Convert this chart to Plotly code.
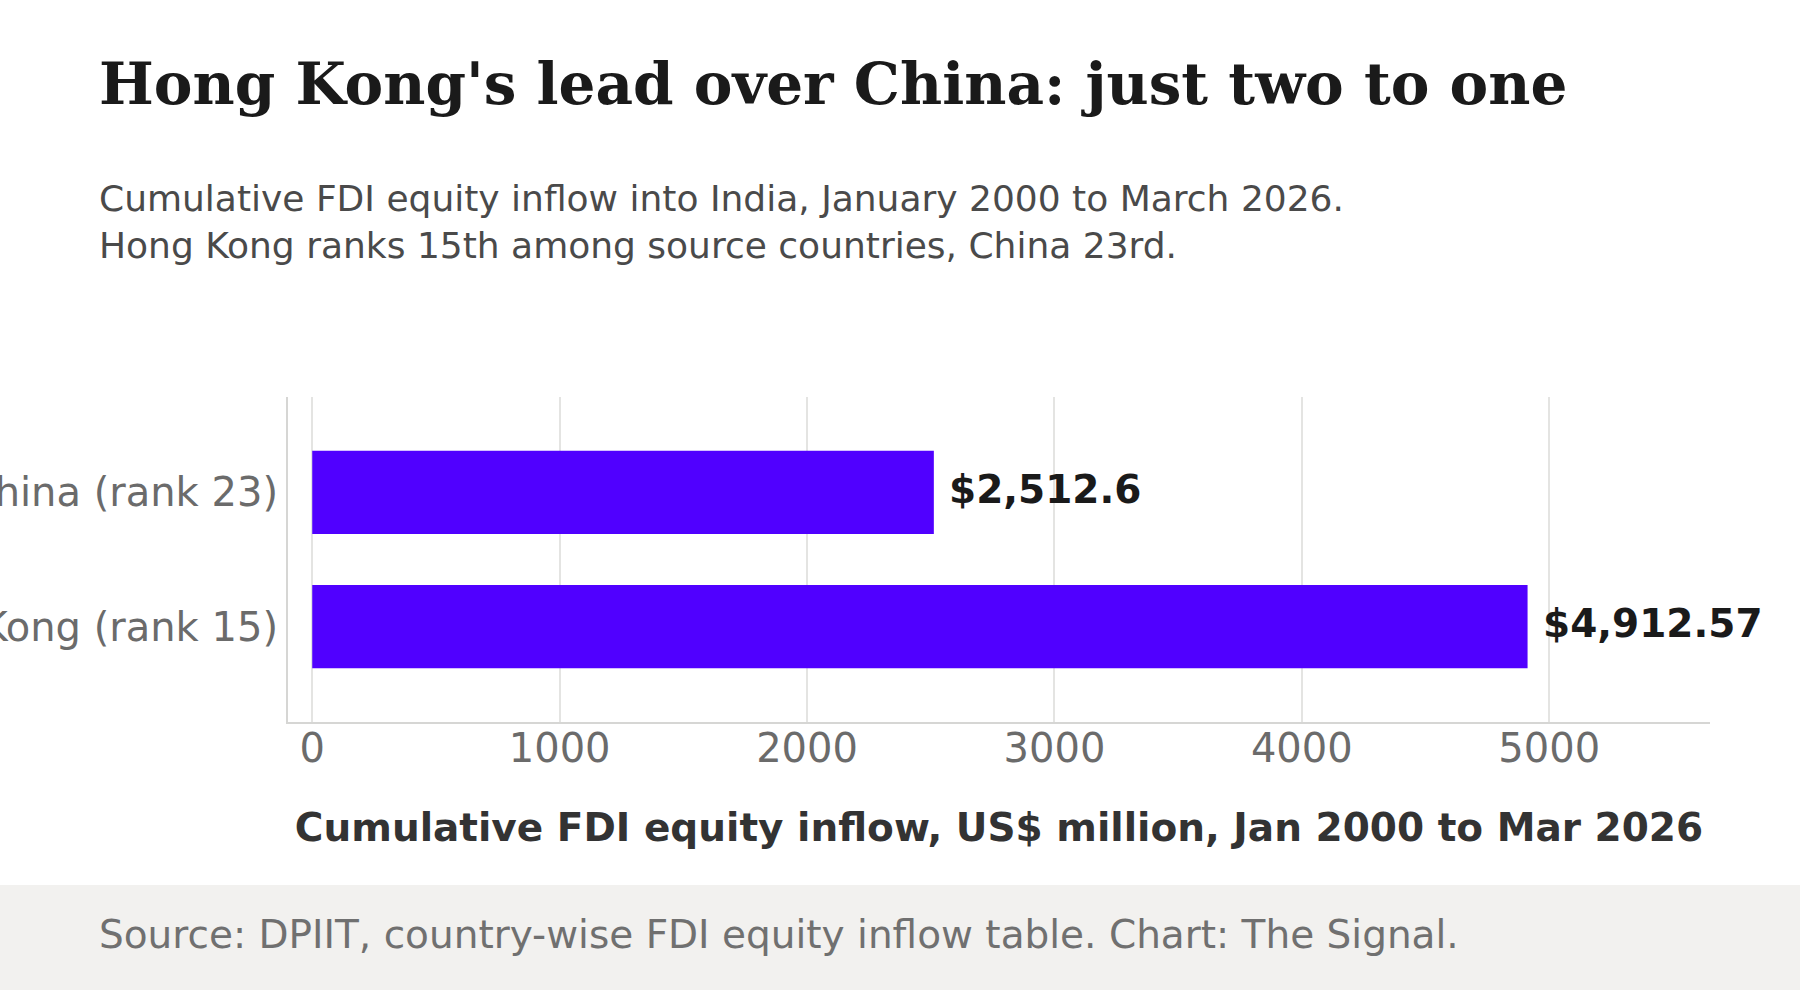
import plotly.graph_objects as go

# data (US$ million, Jan 2000 to Mar 2026)
countries = ["Hong Kong (rank 15)", "China (rank 23)"]
inflows = [4912.57, 2512.6]
value_labels = ["$4,912.57", "$2,512.6"]

TITLE = "Hong Kong's lead over China: just two to one"
SUBTITLE = ("Cumulative FDI equity inflow into India, January 2000 to March 2026.<br>"
            "Hong Kong ranks 15th among source countries, China 23rd.")
X_TITLE = "Cumulative FDI equity inflow, US$ million, Jan 2000 to Mar 2026"
SOURCE = "Source: DPIIT, country-wise FDI equity inflow table. Chart: The Signal."

W, H = 1800, 990
M = dict(l=288, r=90, t=397, b=268)
PW = W - M["l"] - M["r"]
PH = H - M["t"] - M["b"]

BAR = "#5000FF"
SANS = "DejaVu Sans"
TEXT_X = 97


def px_x(x):
    # page pixel -> paper x
    return (x - M["l"]) / PW


def px_y(y):
    # page pixel (from top) -> paper y
    return (H - M["b"] - y) / PH


fig = go.Figure(go.Bar(
    x=inflows,
    y=countries,
    orientation="h",
    marker=dict(color=BAR, line=dict(width=0)),
    hoverinfo="skip",
))

for c, v, lab in zip(countries, inflows, value_labels):
    fig.add_annotation(
        x=v, y=c, text=f"<b>{lab}</b>", showarrow=False,
        xanchor="left", xshift=13, yshift=3,
        font=dict(family=SANS, size=39, color="#1a1a1a"),
    )

# title, subtitle, footer
fig.add_annotation(
    xref="paper", yref="paper", x=px_x(TEXT_X), y=px_y(84),
    text=f"<b>{TITLE}</b>", showarrow=False, xanchor="left", yanchor="middle",
    font=dict(family="DejaVu Serif", size=58, color="#1a1a1a"),
)
fig.add_annotation(
    xref="paper", yref="paper", x=px_x(TEXT_X), y=px_y(222),
    text=SUBTITLE, showarrow=False, xanchor="left", yanchor="middle", align="left",
    font=dict(family=SANS, size=36, color="#4a4a4a"),
)
fig.add_shape(
    type="rect", xref="paper", yref="paper", layer="below",
    x0=px_x(0), x1=px_x(W), y0=px_y(H), y1=px_y(885),
    fillcolor="#f2f1ef", line=dict(width=0),
)
fig.add_annotation(
    xref="paper", yref="paper", x=px_x(TEXT_X), y=px_y(934),
    text=SOURCE, showarrow=False, xanchor="left", yanchor="middle",
    font=dict(family=SANS, size=39, color="#707070"),
)

fig.update_layout(
    width=W, height=H,
    margin=M,
    paper_bgcolor="white",
    plot_bgcolor="white",
    showlegend=False,
    bargap=0.38,
    font=dict(family=SANS),
)

fig.update_xaxes(
    range=[-98, 5650],
    tickvals=[0, 1000, 2000, 3000, 4000, 5000],
    showgrid=True, gridcolor="#e4e4e2", gridwidth=1.5,
    zeroline=False,
    showline=True, linecolor="#d6d6d4", linewidth=2,
    tickfont=dict(family=SANS, size=40, color="#6b6b6b"),
    ticks="", ticklen=0, ticklabelstandoff=-10,
    title=dict(text=f"<b>{X_TITLE}</b>", standoff=44,
               font=dict(family=SANS, size=39, color="#333333")),
    automargin=False,
)
fig.update_yaxes(
    range=[-0.71, 1.71],
    showgrid=False, zeroline=False,
    showline=True, linecolor="#d6d6d4", linewidth=2,
    tickfont=dict(family=SANS, size=40, color="#6b6b6b"),
    ticks="", ticklen=0, ticklabelstandoff=0,
    automargin=False,
)

# page body has a default 8px margin; drop it so the figure sits at the corner
fig.write_html(
    "out.html",
    config={"displayModeBar": False},
    post_script="document.body.style.margin='0px';",
)
